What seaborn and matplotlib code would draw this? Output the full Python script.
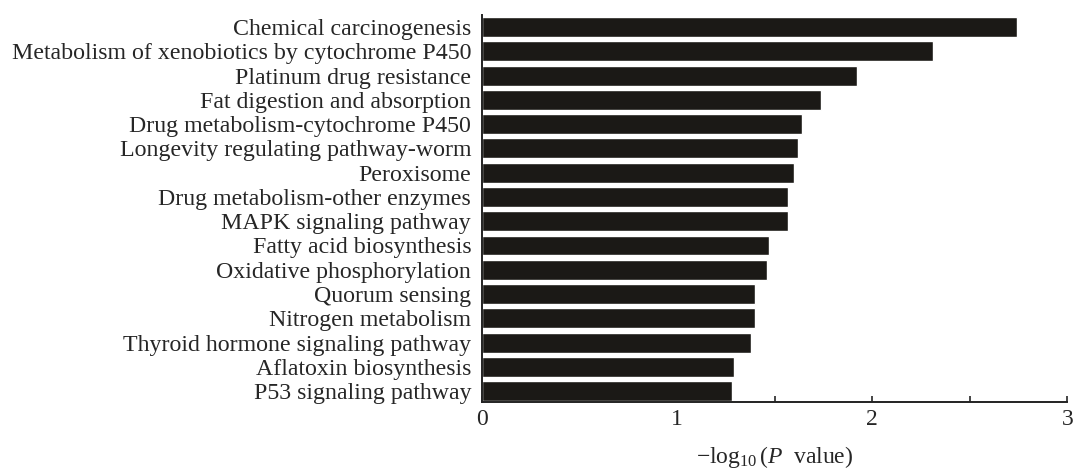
import numpy as np
import matplotlib.pyplot as plt
import pandas as pd
import seaborn as sns
from matplotlib.ticker import MultipleLocator

pathways = ['Chemical carcinogenesis',
            'Metabolism of xenobiotics by cytochrome P450',
            'Platinum drug resistance',
            'Fat digestion and absorption',
            'Drug metabolism-cytochrome P450',
            'Longevity regulating pathway-worm',
            'Peroxisome',
            'Drug metabolism-other enzymes',
            'MAPK signaling pathway',
            'Fatty acid biosynthesis',
            'Oxidative phosphorylation',
            'Quorum sensing',
            'Nitrogen metabolism',
            'Thyroid hormone signaling pathway',
            'Aflatoxin biosynthesis',
            'P53 signaling pathway']
neg_log_p = [2.74, 2.31, 1.92, 1.74, 1.64, 1.62, 1.60, 1.57,
             1.57, 1.47, 1.46, 1.40, 1.40, 1.38, 1.29, 1.28]

df = pd.DataFrame({'pathway': pathways, 'value': neg_log_p})

sns.set_style('white')
plt.rcParams['font.family'] = ['Liberation Serif', 'DejaVu Serif']
plt.rcParams['mathtext.fontset'] = 'custom'
plt.rcParams['mathtext.rm'] = 'Liberation Serif'
plt.rcParams['mathtext.it'] = 'Liberation Serif:italic'

fig, ax = plt.subplots(figsize=(10.75, 4.68), dpi=100)
sns.barplot(data=df, x='value', y='pathway', orient='h', color='#1b1916',
            saturation=1, width=0.82, ax=ax)

ax.set_xlim(0, 3)
ax.set_ylim(15.45, -0.5)
ax.xaxis.set_major_locator(MultipleLocator(1))
ax.xaxis.set_minor_locator(MultipleLocator(0.5))
ax.tick_params(axis='x', which='both', direction='in', bottom=True,
               length=4, width=1.2, labelsize=17, pad=5)
ax.tick_params(axis='y', left=False, labelsize=17.2, pad=4)
ax.set_ylabel('')
ax.set_xlabel(r'$-\log_{10}(P\ \ \mathrm{value})$', fontsize=17, labelpad=10)

sns.despine(ax=ax, top=True, right=True)
for s in ['left', 'bottom']:
    ax.spines[s].set_color('#222222')
    ax.spines[s].set_linewidth(1.4)

fig.subplots_adjust(left=0.448, right=0.993, top=0.968, bottom=0.141)
fig.savefig('out.png', dpi=100)
